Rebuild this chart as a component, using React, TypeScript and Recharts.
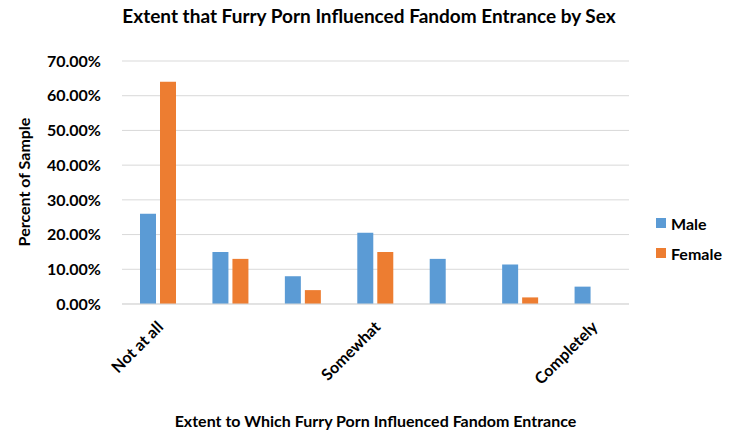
import React from "react";
import { BarChart, Bar, XAxis, YAxis, CartesianGrid } from "recharts";

const categories = ["c1", "c2", "c3", "c4", "c5", "c6", "c7"];
const tickLabels = ["Not at all", "", "", "Somewhat", "", "", "Completely"];
const maleValues = [0.26, 0.15, 0.08, 0.205, 0.13, 0.114, 0.05];
const femaleValues = [0.64, 0.13, 0.04, 0.15, 0, 0.019, 0];
const yTicks = [0, 0.1, 0.2, 0.3, 0.4, 0.5, 0.6, 0.7];
const seriesNames = ["Male", "Female"];
const seriesColors = ["#5B9BD5", "#ED7D31"];

const data = categories.map((c, i) => ({
  cat: c,
  Male: maleValues[i],
  Female: femaleValues[i],
}));

const FONT = "Lato, 'Open Sans', sans-serif";

const XTick = (props: any) => {
  const { x, y, payload } = props;
  const text = tickLabels[payload.index] ?? "";
  if (!text) return null;
  const ax = x + 6;
  const ay = y + 16;
  return (
    <text
      x={ax}
      y={ay}
      transform={`rotate(-45, ${ax}, ${ay})`}
      textAnchor="end"
      fontFamily={FONT}
      fontWeight={700}
      fontSize={16}
      fill="#000"
    >
      {text}
    </text>
  );
};

export default function App() {
  return (
    <div style={{ position: "absolute", left: 0, top: 0, width: 738, height: 432, background: "#fff" }}>
      <div
        style={{
          position: "absolute",
          left: 0,
          top: 4,
          width: 738,
          textAlign: "center",
          fontFamily: FONT,
          fontWeight: 700,
          fontSize: 19,
          color: "#000",
          zIndex: 2,
        }}
      >
        Extent that Furry Porn Influenced Fandom Entrance by Sex
      </div>
      <div
        style={{
          position: "absolute",
          left: 656,
          top: 208,
          fontFamily: FONT,
          fontWeight: 700,
          fontSize: 16,
          color: "#000",
          zIndex: 2,
        }}
      >
        {seriesNames.map((n, i) => (
          <div key={n} style={{ display: "flex", alignItems: "center", height: 30 }}>
            <span
              style={{ width: 10, height: 10, background: seriesColors[i], display: "inline-block", marginRight: 5 }}
            />
            <span>{n}</span>
          </div>
        ))}
      </div>
      <BarChart
        width={738}
        height={432}
        data={data}
        margin={{ top: 61, right: 109, bottom: 0, left: 0 }}
        barGap={4}
        barSize={16}
      >
        <CartesianGrid vertical={false} stroke="#D9D9D9" strokeWidth={1} />
        <XAxis
          dataKey="cat"
          height={128}
          axisLine={{ stroke: "#D9D9D9" }}
          tickLine={false}
          tick={<XTick />}
          interval={0}
          label={{
            value: "Extent to Which Furry Porn Influenced Fandom Entrance",
            position: "insideBottom",
            offset: 5,
            fontFamily: FONT,
            fontWeight: 700,
            fontSize: 16,
            fill: "#000",
          }}
        />
        <YAxis
          width={122}
          domain={[0, 0.7]}
          ticks={yTicks}
          axisLine={false}
          tickLine={false}
          tickMargin={15}
          tickFormatter={(v: number) => (v * 100).toFixed(2) + "%"}
          tick={{ fontFamily: FONT, fontWeight: 700, fontSize: 16, fill: "#000" }}
          label={{
            content: () => (
              <text
                x={23}
                y={182}
                transform="rotate(-90, 23, 182)"
                textAnchor="middle"
                dominantBaseline="central"
                fontFamily={FONT}
                fontWeight={700}
                fontSize={16}
                fill="#000"
              >
                Percent of Sample
              </text>
            ),
          }}
        />
        {seriesNames.map((n, i) => (
          <Bar key={n} dataKey={n} name={n} fill={seriesColors[i]} isAnimationActive={false} />
        ))}
      </BarChart>
    </div>
  );
}
